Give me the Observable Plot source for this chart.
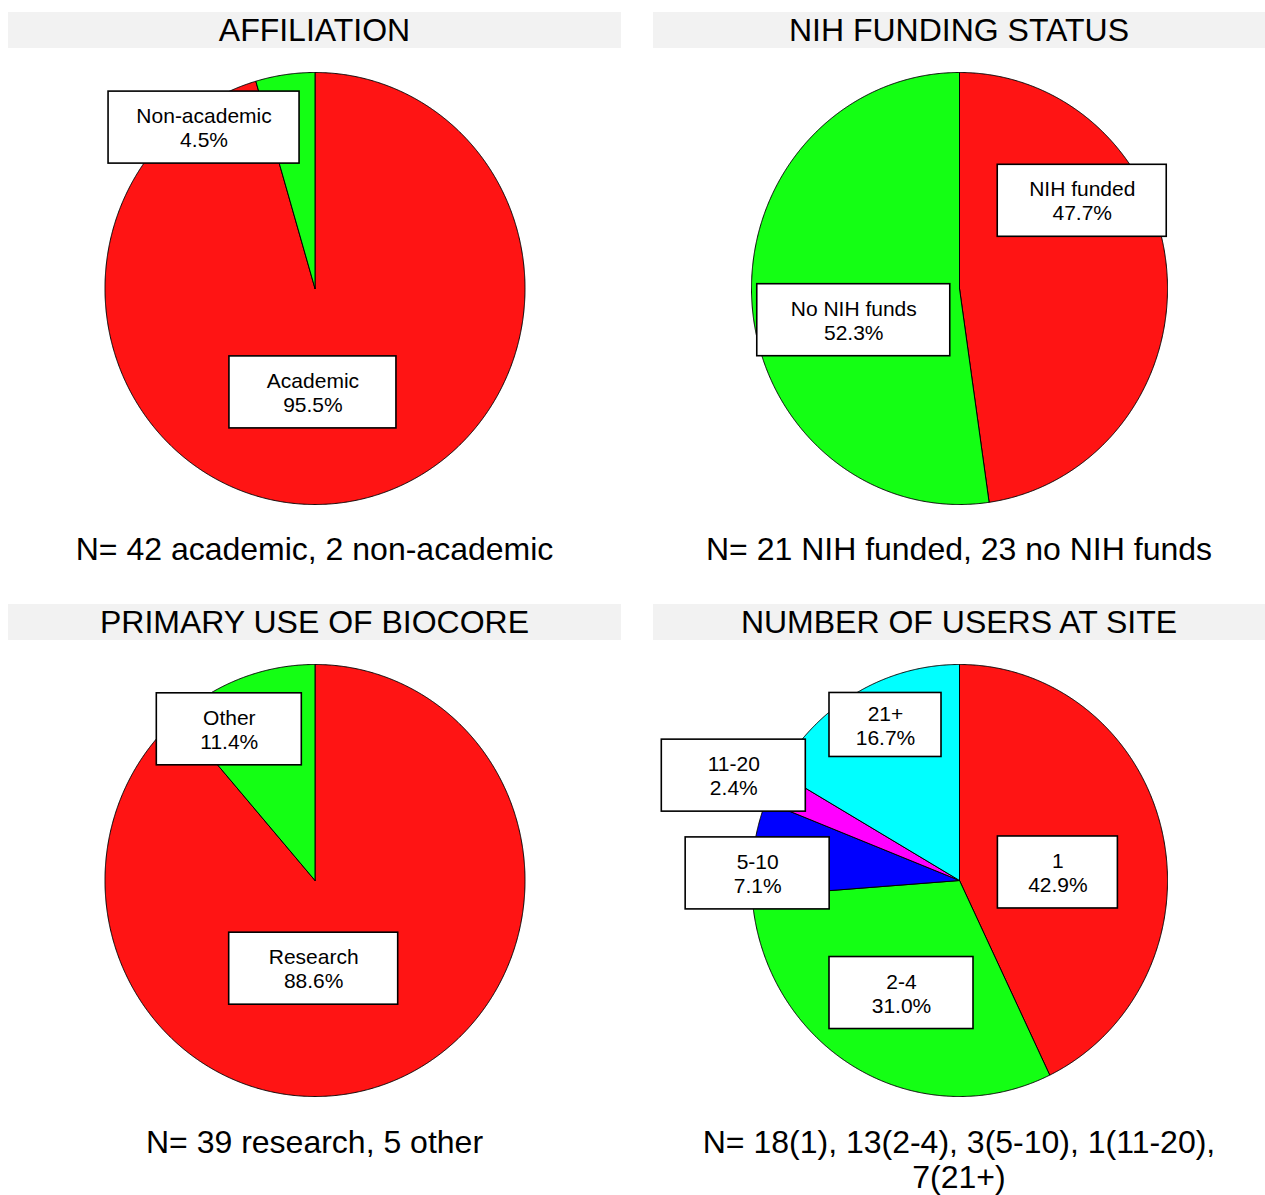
<!DOCTYPE html>
<html>
<head>
<meta charset="utf-8">
<script src="https://cdn.jsdelivr.net/npm/d3@7"></script>
<script src="https://cdn.jsdelivr.net/npm/@observablehq/plot@0.6"></script>
<style>
  html, body { margin: 0; padding: 0; background: #ffffff; }
  body { width: 1265px; height: 1195px; position: relative; overflow: hidden;
         font-family: "Liberation Sans", Arial, sans-serif; }
  .title { position: absolute; height: 36px; line-height: 36px; background: #f2f2f2;
           font-size: 32px; text-align: center; color: #000; white-space: nowrap; }
  .chart { position: absolute; }
  .caption { position: absolute; font-size: 32px; text-align: center; color: #000; }
</style>
</head>
<body>
<script>
// ---------- DATA ----------
const titles = ["AFFILIATION", "NIH FUNDING STATUS", "PRIMARY USE OF BIOCORE", "NUMBER OF USERS AT SITE"];
const captions = [
  "N= 42 academic, 2 non-academic",
  "N= 21 NIH funded, 23 no NIH funds",
  "N= 39 research, 5 other",
  "N= 18(1), 13(2-4), 3(5-10), 1(11-20), 7(21+)"
];
const affiliationCats = ["Academic", "Non-academic"];
const affiliationCounts = [42, 2];
const nihCats = ["NIH funded", "No NIH funds"];
const nihCounts = [21, 23];
const useCats = ["Research", "Other"];
const useCounts = [39, 5];
const usersCats = ["1", "2-4", "5-10", "11-20", "21+"];
const usersCounts = [18, 13, 3, 1, 7];

// ---------- STYLE / LAYOUT ----------
const sliceColors = ["#ff1414", "#14ff14", "#0000ff", "#ff00ff", "#00ffff"];
const panels = [
  {cats: affiliationCats, counts: affiliationCounts, left: 8, top: 12, width: 613, rx: 210, capTop: 519, capLH: 37,
   labels: [{w: 167, h: 72, dx: -17, dy: -3}, {w: 191, h: 72, dx: -96, dy: -54}]},
  {cats: nihCats, counts: nihCounts, left: 653, top: 12, width: 612, rx: 208, capTop: 519, capLH: 37,
   labels: [{w: 169, h: 72, dx: 19, dy: -80}, {w: 193, h: 72, dx: -2, dy: 24}]},
  {cats: useCats, counts: useCounts, left: 8, top: 604, width: 613, rx: 210, capTop: 521, capLH: 35,
   labels: [{w: 169, h: 72, dx: -38, dy: -13}, {w: 145, h: 72, dx: -49, dy: -50}]},
  {cats: usersCats, counts: usersCounts, left: 653, top: 604, width: 612, rx: 208, capTop: 521, capLH: 35,
   labels: [{w: 120, h: 72, dx: -3, dy: 16}, {w: 144, h: 72, dx: -6, dy: 19},
            {w: 144, h: 72, dx: -99, dy: 9}, {w: 144, h: 72, dx: -132, dy: -58},
            {w: 112, h: 64, dx: -22, dy: -62}]}
];
const ry = 216, titleH = 36, mTop = 24, mBottom = 10, labelR = 0.5;

function pieChart(p) {
  const total = d3.sum(p.counts);
  let acc = 0;
  const slices = p.cats.map((c, i) => {
    const start = acc / total; acc += p.counts[i]; const end = acc / total;
    return {cat: c, value: p.counts[i], start, end, color: sliceColors[i]};
  });
  const step = 1 / 1440;
  const marks = slices.map(s => {
    const pts = [{x: 0, y: 0}];
    for (let t = s.start; t < s.end; t += step) pts.push({x: Math.sin(2 * Math.PI * t), y: Math.cos(2 * Math.PI * t)});
    pts.push({x: Math.sin(2 * Math.PI * s.end), y: Math.cos(2 * Math.PI * s.end)});
    pts.push({x: 0, y: 0});
    return Plot.line(pts, {x: "x", y: "y", fill: s.color, stroke: "black", strokeWidth: 1, curve: "linear"});
  });
  const pxX = p.rx, pxY = ry;
  const labs = slices.map((s, i) => {
    const L = p.labels[i];
    const mid = (s.start + s.end) * Math.PI;
    const cx = labelR * Math.sin(mid) + L.dx / pxX;
    const cy = labelR * Math.cos(mid) - L.dy / pxY;
    const hw = L.w / 2 / pxX, hh = L.h / 2 / pxY;
    return {cx, cy, x1: cx - hw, x2: cx + hw, y1: cy - hh, y2: cy + hh,
            text: `${s.cat}\n${(100 * s.value / total).toFixed(1)}%`};
  });
  marks.push(Plot.rect(labs, {x1: "x1", x2: "x2", y1: "y1", y2: "y2", fill: "white", stroke: "black", strokeWidth: 1.6}));
  marks.push(Plot.text(labs, {x: "cx", y: "cy", text: "text", fontSize: 21, lineHeight: 1.14, fill: "black"}));
  const mSide = (p.width - 2 * p.rx) / 2;
  return Plot.plot({
    width: p.width, height: mTop + 2 * ry + mBottom,
    marginLeft: mSide, marginRight: mSide, marginTop: mTop, marginBottom: mBottom,
    x: {domain: [-1, 1], axis: null},
    y: {domain: [-1, 1], axis: null},
    style: {background: "transparent", fontFamily: "'Liberation Sans', Arial, sans-serif", color: "black"},
    marks
  });
}

panels.forEach((p, i) => {
  const t = document.createElement("div");
  t.className = "title";
  t.style.left = p.left + "px"; t.style.top = p.top + "px"; t.style.width = p.width + "px";
  t.textContent = titles[i];
  document.body.appendChild(t);

  const c = document.createElement("div");
  c.className = "chart";
  c.style.left = p.left + "px"; c.style.top = (p.top + titleH) + "px";
  c.appendChild(pieChart(p));
  document.body.appendChild(c);

  const cap = document.createElement("div");
  cap.className = "caption";
  const cw = 580;
  cap.style.left = (p.left + (p.width - cw) / 2) + "px"; cap.style.width = cw + "px";
  cap.style.top = (p.top + p.capTop) + "px";
  cap.style.lineHeight = p.capLH + "px";
  cap.textContent = captions[i];
  document.body.appendChild(cap);
});
</script>
</body>
</html>
